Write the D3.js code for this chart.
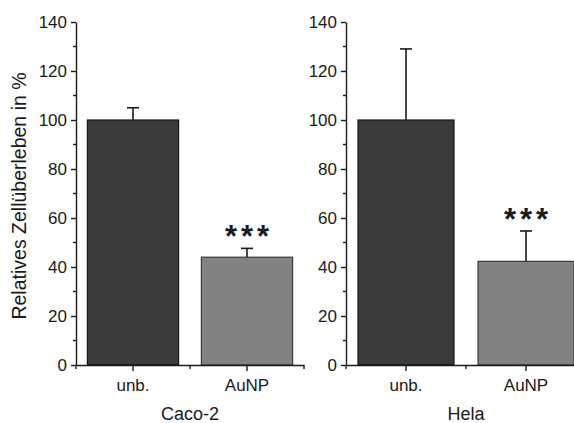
<!doctype html>
<html>
<head>
  <meta charset="utf-8">
  <title>Relatives Zellüberleben</title>
  <style>
  body { margin: 0; background: #fff; }
  svg text { font-family: "Liberation Sans", Arial, sans-serif; fill: #1a1a1a; }
  .axis path, .axis line { stroke: #1a1a1a; stroke-width: 1.4px; }
  </style>
</head>
<body>
  <div id="vis"></div>
  <script src="https://d3js.org/d3.v7.min.js"></script>
  <script>
  var width = 574;
  var height = 423;

  var groups = ['Caco-2', 'Hela'];
  var categories = ['unb.', 'AuNP'];
  var cacoValues = [100, 44];
  var cacoErrors = [5, 3.6];
  var helaValues = [100, 42.3];
  var helaErrors = [29, 12.4];
  var stars = ['', '***'];
  var yTicks = [0, 20, 40, 60, 80, 100, 120, 140];
  var yMinor = [10, 30, 50, 70, 90, 110, 130];

  var barFill = ['#3b3b3b', '#828282'];
  var barStroke = ['#151515', '#3a3a3a'];

  var panels = [
    { name: groups[0], values: cacoValues, errors: cacoErrors, x0: 76, x1: 304 },
    { name: groups[1], values: helaValues, errors: helaErrors, x0: 346, x1: 586 }
  ];

  var svg = d3.select('#vis')
    .append('svg')
    .attr('width', width)
    .attr('height', height);

  var y = d3.scaleLinear().domain([0, 140]).range([365, 22]);

  // y axis title
  svg.append('text')
    .attr('transform', 'translate(26,196) rotate(-90)')
    .attr('text-anchor', 'middle')
    .style('font-size', '19.5px')
    .text('Relatives Zellüberleben in %');

  panels.forEach(function(p){
    var g = svg.append('g');
    var x = d3.scaleBand().domain(categories).range([p.x0, p.x1])
      .paddingInner(0.2).paddingOuter(0.1);
    var data = categories.map(function(c, i){
      return { cat: c, value: p.values[i], err: p.errors[i], i: i, star: stars[i] };
    });

    // bars
    g.selectAll('rect.bar').data(data)
      .enter().append('rect')
        .attr('class', 'bar')
        .attr('x', function(d){ return x(d.cat); })
        .attr('width', x.bandwidth())
        .attr('y', function(d){ return y(d.value); })
        .attr('height', function(d){ return y(0) - y(d.value); })
        .attr('fill', function(d){ return barFill[d.i]; })
        .attr('stroke', function(d){ return barStroke[d.i]; })
        .attr('stroke-width', 1.2);

    // error bars (upper only)
    var cx = function(d){ return x(d.cat) + x.bandwidth() / 2; };
    g.selectAll('line.err').data(data)
      .enter().append('line')
        .attr('x1', cx).attr('x2', cx)
        .attr('y1', function(d){ return y(d.value); })
        .attr('y2', function(d){ return y(d.value + d.err); })
        .attr('stroke', '#1a1a1a').attr('stroke-width', 1.6);
    g.selectAll('line.cap').data(data)
      .enter().append('line')
        .attr('x1', function(d){ return cx(d) - 6; })
        .attr('x2', function(d){ return cx(d) + 6; })
        .attr('y1', function(d){ return y(d.value + d.err); })
        .attr('y2', function(d){ return y(d.value + d.err); })
        .attr('stroke', '#1a1a1a').attr('stroke-width', 1.6);

    // significance stars
    g.selectAll('text.star').data(data.filter(function(d){ return d.star; }))
      .enter().append('text')
        .attr('x', function(d){ return cx(d) + 2; })
        .attr('y', function(d){ return y(d.value + d.err) - 1; })
        .attr('text-anchor', 'middle')
        .style('font-size', '31px')
        .style('font-weight', 'bold')
        .style('letter-spacing', '4px')
        .text(function(d){ return d.star; });

    // y axis
    var yAxis = g.append('g').attr('class', 'axis')
      .attr('transform', 'translate(' + p.x0 + ',0)')
      .call(d3.axisLeft(y).tickValues(yTicks).tickSize(5).tickSizeOuter(0).tickPadding(4));
    yAxis.selectAll('text').style('font-size', '17px').attr('fill', '#1a1a1a');
    yAxis.selectAll('.minor').data(yMinor)
      .enter().append('line')
        .attr('class', 'minor')
        .attr('x1', -3).attr('x2', 0)
        .attr('y1', function(d){ return y(d); })
        .attr('y2', function(d){ return y(d); });

    // x axis
    var xAxis = g.append('g').attr('class', 'axis')
      .attr('transform', 'translate(0,' + y(0) + ')')
      .call(d3.axisBottom(x).tickSize(6).tickSizeOuter(0).tickPadding(8));
    xAxis.selectAll('text').style('font-size', '17px').attr('fill', '#1a1a1a');
    var bounds = [p.x0, (x('unb.') + x.bandwidth() + x('AuNP')) / 2, p.x1];
    xAxis.selectAll('.minor').data(bounds)
      .enter().append('line')
        .attr('class', 'minor')
        .attr('x1', function(d){ return d; }).attr('x2', function(d){ return d; })
        .attr('y1', 0).attr('y2', 4);

    // group label
    g.append('text')
      .attr('x', (x(categories[0]) + x(categories[1]) + x.bandwidth()) / 2)
      .attr('y', 420)
      .attr('text-anchor', 'middle')
      .style('font-size', '18px')
      .text(p.name);
  });
  </script>
</body>
</html>
